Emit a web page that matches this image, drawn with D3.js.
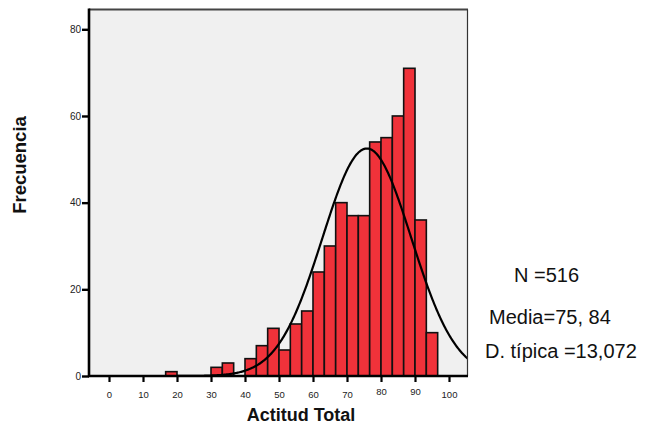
<!DOCTYPE html>
<html>
<head>
<meta charset="utf-8">
<script src="https://cdn.jsdelivr.net/npm/d3@7"></script>
<style>
  body { margin: 0; background: #fff; }
  svg { display: block; font-family: "Liberation Sans", Arial, sans-serif; }
</style>
</head>
<body>
<svg id="chart" width="648" height="425"></svg>
<script>
// Histogram of "Actitud Total": lower edge of each bin and its frequency
const binStarts = [16.667, 30, 33.333, 36.667, 40, 43.333, 46.667, 50, 53.333, 56.667,
                   60, 63.333, 66.667, 70, 73.333, 76.667, 80, 83.333, 86.667, 90, 93.333];
const counts    = [1, 2, 3, 0, 4, 7, 11, 6, 12, 15,
                   24, 30, 40, 37, 37, 54, 55, 60, 71, 36, 10];
const binWidth = 10 / 3;

// Summary statistics used for the fitted normal curve
const sampleN = 516;
const sampleMean = 75.84;
const sampleSD = 13.072;
const statLabels = ["N =516", "Media=75, 84", "D. típica =13,072"];

const xTicks = [0, 10, 20, 30, 40, 50, 60, 70, 80, 90, 100];
const yTicks = [0, 20, 40, 60, 80];

const svg = d3.select("#chart");

// Plot frame in pixels
const plotL = 89, plotR = 468, plotT = 9.5, plotB = 376;

const x = d3.scaleLinear().domain([0, 100]).range([109, 449]);
const y = d3.scaleLinear().domain([0, 80]).range([plotB, 29.3]);

// Plot background
svg.append("rect")
  .attr("x", plotL).attr("y", plotT)
  .attr("width", plotR - plotL).attr("height", plotB - plotT)
  .attr("fill", "#f0f0f0");

svg.append("clipPath").attr("id", "plotClip")
  .append("rect")
  .attr("x", plotL).attr("y", plotT)
  .attr("width", plotR - plotL).attr("height", plotB - plotT);

// Bars
svg.append("g")
  .selectAll("rect")
  .data(binStarts.map((b, i) => ({ b, c: counts[i] })).filter(d => d.c > 0))
  .join("rect")
  .attr("x", d => x(d.b))
  .attr("y", d => y(d.c))
  .attr("width", d => x(d.b + binWidth) - x(d.b))
  .attr("height", d => y(0) - y(d.c))
  .attr("fill", "#f0323a")
  .attr("stroke", "#111")
  .attr("stroke-width", 1.6);

// Normal curve scaled to the histogram (N * bin width * density)
const xMin = x.invert(plotL), xMax = x.invert(plotR);
const curvePts = d3.range(xMin, xMax + 0.25, 0.25).map(v => {
  const z = (v - sampleMean) / sampleSD;
  return [v, sampleN * binWidth * Math.exp(-0.5 * z * z) / (sampleSD * Math.sqrt(2 * Math.PI))];
});
svg.append("path")
  .datum(curvePts)
  .attr("clip-path", "url(#plotClip)")
  .attr("fill", "none")
  .attr("stroke", "#000")
  .attr("stroke-width", 2.2)
  .attr("d", d3.line().x(d => x(d[0])).y(d => y(d[1])));

// Frame: top and right edges
svg.append("line")
  .attr("x1", plotL).attr("x2", plotR).attr("y1", plotT).attr("y2", plotT)
  .attr("stroke", "#444").attr("stroke-width", 2);
svg.append("line")
  .attr("x1", plotR - 0.5).attr("x2", plotR - 0.5).attr("y1", plotT).attr("y2", plotB)
  .attr("stroke", "#333").attr("stroke-width", 1.2);

// Y axis
const yAxis = svg.append("g")
  .attr("transform", `translate(${plotL},0)`)
  .call(d3.axisLeft(y).tickValues(yTicks).tickSize(7).tickPadding(1).tickFormat(d3.format("d")));
yAxis.select(".domain").remove();
yAxis.selectAll(".tick line").attr("stroke", "#000").attr("stroke-width", 2.4);
yAxis.selectAll(".tick text")
  .attr("font-size", "10px").attr("fill", "#222")
  .attr("font-family", "'Liberation Sans', Arial, sans-serif");
svg.append("line")
  .attr("x1", plotL).attr("x2", plotL).attr("y1", plotT - 1).attr("y2", plotB + 1)
  .attr("stroke", "#000").attr("stroke-width", 2.6);

// X axis
const xAxis = svg.append("g")
  .attr("transform", `translate(0,${plotB})`)
  .call(d3.axisBottom(x).tickValues(xTicks).tickSize(6).tickPadding(9).tickFormat(d3.format("d")));
xAxis.select(".domain").remove();
xAxis.selectAll(".tick line").attr("stroke", "#000").attr("stroke-width", 2.2);
xAxis.selectAll(".tick text")
  .attr("font-size", "9.5px").attr("fill", "#222")
  .attr("font-family", "'Liberation Sans', Arial, sans-serif")
  .attr("dy", d => (d === 80 || d === 90) ? "0.4em" : "0.71em");
svg.append("line")
  .attr("x1", plotL - 1).attr("x2", plotR).attr("y1", plotB).attr("y2", plotB)
  .attr("stroke", "#000").attr("stroke-width", 2.6);

// Axis titles
svg.append("text")
  .attr("x", 301).attr("y", 420.5)
  .attr("text-anchor", "middle")
  .attr("font-size", "18px").attr("font-weight", "bold").attr("fill", "#111")
  .text("Actitud Total");
svg.append("text")
  .attr("transform", "translate(26,165) rotate(-90)")
  .attr("text-anchor", "middle")
  .attr("font-size", "18.5px").attr("font-weight", "bold").attr("fill", "#111")
  .text("Frecuencia");

// Summary statistics
const statPos = [[514, 281.5], [489, 324], [485, 358]];
svg.append("g")
  .selectAll("text")
  .data(statLabels)
  .join("text")
  .attr("x", (d, i) => statPos[i][0])
  .attr("y", (d, i) => statPos[i][1])
  .attr("font-size", "20px").attr("fill", "#111")
  .text(d => d);
</script>
</body>
</html>
